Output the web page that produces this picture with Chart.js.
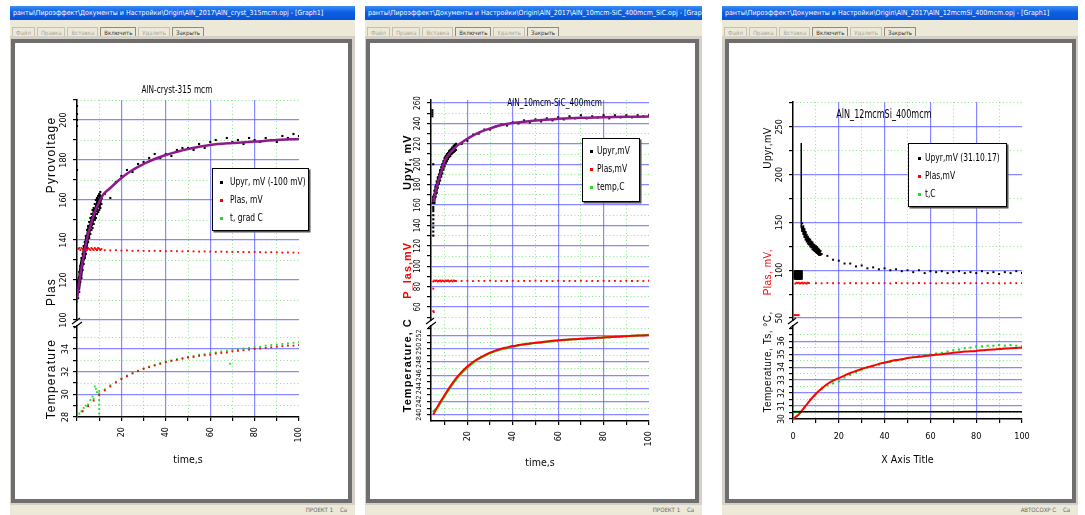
<!DOCTYPE html>
<html>
<head>
<meta charset="utf-8">
<title>Pyroelectric response</title>
<script src="https://cdn.jsdelivr.net/npm/chart.js@4.4.1/dist/chart.umd.min.js"></script>
<style>
  body { margin: 0; width: 1085px; height: 515px; background: #fff; position: relative; overflow: hidden;
         font-family: "Liberation Sans Narrow", "DejaVu Sans Condensed", "Liberation Sans", sans-serif; }
  .win { position: absolute; top: 6px; height: 509px; background: #d4d0c8; }
  .titlebar { position: absolute; left: 0; right: 0; top: 0; height: 14px; padding-left: 3px;
              background: linear-gradient(#3d8ef6, #0c5fe2 45%, #0654d8); color: #fff;
              font-size: 7px; line-height: 14px; white-space: nowrap; overflow: hidden; }
  .toolbar { position: absolute; left: 0; right: 0; top: 14px; height: 16px; background: #ece9d8;
             white-space: nowrap; overflow: hidden; }
  .toolbar span { display: inline-block; margin: 3px 0 0 2px; padding: 0 3px; height: 9px; line-height: 9px;
                  border: 1px solid #c4c1b2; font-size: 6px; color: #a8a69a; }
  .toolbar span.on { color: #333; border-color: #8d8b80; }
  .frame { position: absolute; top: 33px; border: 4px solid #6e6e6e; background: #fff; }
  .frame canvas { display: block; }
  .status { position: absolute; left: 0; right: 0; bottom: 0; height: 10px; background: #ece9d8;
            font-size: 6px; line-height: 10px; color: #666; text-align: right; padding-right: 8px; box-sizing: border-box; }
  .legend { position: absolute; background: #fff; border: 1px solid #000; box-shadow: 1.5px 1.5px 0 #555;
            font-size: 10px; color: #000; box-sizing: border-box; }
  .legend div { height: 18px; line-height: 18px; white-space: nowrap; position: relative; }
  .legend i { position: absolute; top: 8px; left: var(--mk); width: 3px; height: 3px; }
  .legend span { position: absolute; left: var(--tx); transform: scaleX(0.84); transform-origin: left center; }
</style>
</head>
<body>

<div class="win" style="left:10px;width:345px">
  <div class="titlebar">ранты\Пироэффект\Документы и Настройки\Origin\AlN_2017\AlN_cryst_315mcm.opj - [Graph1]</div>
  <div class="toolbar"><span>Файл</span><span>Правка</span><span>Вставка</span><span class="on">Включить</span><span>Удалить</span><span class="on">Закрыть</span></div>
  <div class="frame" style="left:1px"><canvas id="chart1" width="333" height="456"></canvas></div>
  <div class="status">ПРОЕКТ 1 &nbsp;&nbsp; Ca</div>
</div>

<div class="win" style="left:365px;width:337px">
  <div class="titlebar">ранты\Пироэффект\Документы и Настройки\Origin\AlN_2017\AlN_10mcm-SiC_400mcm_SiC.opj - [Graph1]</div>
  <div class="toolbar"><span>Файл</span><span>Правка</span><span>Вставка</span><span class="on">Включить</span><span>Удалить</span><span class="on">Закрыть</span></div>
  <div class="frame" style="left:1px"><canvas id="chart2" width="325" height="456"></canvas></div>
  <div class="status">ПРОЕКТ 1 &nbsp;&nbsp; Ca</div>
</div>

<div class="win" style="left:722px;width:356px">
  <div class="titlebar">ранты\Пироэффект\Документы и Настройки\Origin\AlN_2017\AlN_12mcmSi_400mcm.opj - [Graph1]</div>
  <div class="toolbar"><span>Файл</span><span>Правка</span><span>Вставка</span><span class="on">Включить</span><span>Удалить</span><span class="on">Закрыть</span></div>
  <div class="frame" style="left:3px"><canvas id="chart3" width="343" height="456"></canvas></div>
  <div class="status">АВТОСОХР C &nbsp;&nbsp; Ca</div>
</div>

<div class="legend" id="legend1" style="left:212px;top:168px;width:97px;height:63px;padding-top:4px;--mk:7px;--tx:17px"></div>
<div class="legend" id="legend2" style="left:582px;top:138px;width:58px;height:64px;padding-top:3px;--mk:7px;--tx:14px"></div>
<div class="legend" id="legend3" style="left:908px;top:143px;width:99px;height:64px;padding-top:5px;--mk:9px;--tx:16px"></div>

<script>
// ---- panel 1: AlN-cryst-315 mcm ----
const p1DenseTime = [0.5, 1, 1.5, 2, 2.5, 3, 3.5, 4, 4.5, 5, 5.5, 6, 6.5, 7, 7.5, 8, 8.5, 9, 9.5, 10, 10.5, 11];
const p1PyroDenseMid = [115, 120, 122, 127, 130, 131, 136, 137, 141, 142, 146, 147, 148, 151, 151, 155, 155, 157, 159, 158, 161, 160];
const p1PyroDenseHigh = [119, 124, 127, 131, 133, 137, 139, 142, 145, 147, 149, 151, 153, 155, 156, 158, 160, 161, 162, 163, 164, 162];
const p1PyroDenseLow = [111, 114, 119, 121, 125, 128, 131, 133, 136, 139, 141, 143, 145, 146, 148, 150, 151, 153, 154, 155, 156, 158];
const p1SparseTime = [12.5, 15, 17.5, 20, 22.5, 25, 27.5, 30, 32.5, 35, 37.5, 40, 42.5, 45, 47.5, 50, 52.5, 55,
  57.5, 60, 62.5, 65, 67.5, 70, 72.5, 75, 77.5, 80, 82.5, 85, 87.5, 90, 92.5, 95, 97.5, 100];
const p1PyroSparse = [163, 161, 169, 172, 175, 174, 178, 179, 181, 183, 181, 183, 182, 185, 186, 186, 185, 188,
  186, 189, 190, 188, 191, 189, 190, 188, 191, 190, 189, 191, 190, 189, 192, 191, 193, 192];
const p1PyroEdgeTime = [0, 0, 0, 0, 0];
const p1PyroEdge = [207, 203, 200, 197, 175];
const p1FitTime = [0, 1, 2, 3, 4, 5, 6, 8, 10, 12, 15, 20, 25, 30, 35, 40, 50, 60, 70, 80, 90, 100];
const p1FitValues = [110, 119, 126, 132, 138, 143, 147, 154, 159, 163, 166, 171, 175, 178, 180.5, 182.5, 185.5, 187.5, 188.5, 189.2, 190, 190.5];
const p1LaserDense = [135.5, 136, 135, 136, 135.5, 135, 136, 135.5, 135, 136, 135.5, 135, 136, 135.5, 135, 136, 135.5, 135, 136, 135.5, 135, 135.5];
const p1LaserSparse = [134.9, 134.8, 134.9, 134.7, 134.8, 134.6, 134.7, 134.6, 134.5, 134.6, 134.5, 134.4, 134.5, 134.4, 134.3, 134.4, 134.3, 134.2,
  134.3, 134.2, 134.1, 134.2, 134.1, 134.0, 134.1, 134.0, 133.9, 134.0, 133.9, 133.8, 133.9, 133.8, 133.7, 133.8, 133.7, 133.6];
const p1LaserEdgeTime = [0];
const p1LaserEdge = [109];
const p1TempTime = [0, 2.5, 5, 7.5, 10, 12.5, 15, 17.5, 20, 22.5, 25, 27.5, 30, 32.5, 35, 37.5, 40, 42.5, 45, 47.5, 50,
  52.5, 55, 57.5, 60, 62.5, 65, 67.5, 70, 72.5, 75, 77.5, 80, 82.5, 85, 87.5, 90, 92.5, 95, 97.5, 100];
const p1TempRed = [28.0, 28.5, 28.95, 29.45, 29.95, 30.35, 30.7, 31.05, 31.35, 31.6, 31.85, 32.05, 32.25, 32.4, 32.55, 32.7, 32.85, 32.95, 33.05, 33.15, 33.25,
  33.3, 33.4, 33.45, 33.5, 33.6, 33.65, 33.7, 33.8, 33.85, 33.9, 33.95, 34.0, 34.05, 34.1, 34.15, 34.2, 34.25, 34.3, 34.3, 34.35];
const p1TempGreen = [28.0, 28.55, 29.1, 29.6, 30.1, 30.45, 30.8, 31.1, 31.4, 31.65, 31.9, 32.1, 32.3, 32.45, 32.6, 32.75, 32.9, 33.0, 33.1, 33.2, 33.3,
  33.4, 33.5, 33.55, 33.65, 33.7, 33.8, 33.85, 33.95, 34.0, 34.05, 34.1, 34.15, 34.2, 34.3, 34.35, 34.4, 34.45, 34.5, 34.55, 34.6];
const p1TempExtraTime = [1, 2, 3, 4, 6, 7, 8, 8.5, 9, 10, 10, 10, 10, 10, 10, 69];
const p1TempExtra = [28.3, 28.5, 28.8, 29.0, 29.5, 29.8, 30.7, 30.5, 30.2, 30.3, 29.9, 29.5, 29.1, 28.7, 28.3, 32.7];

// ---- panel 2: AlN_10mcm-SiC_400mcm ----
const p2DenseTime = [5, 5.5, 6, 6.5, 7, 7.5, 8, 8.5, 9, 9.5, 10, 10.5, 11, 11.5, 12, 12.5, 13, 13.5, 14, 14.5, 15];
const p2PyroDenseMid = [161, 169, 172, 179, 181, 187, 188, 194, 195, 200, 202, 206, 206, 209, 209, 212, 212, 215, 214, 217, 216];
const p2PyroDenseHigh = [168, 174, 178, 183, 187, 190, 194, 197, 200, 203, 206, 208, 210, 211, 213, 214, 215, 216, 218, 219, 220];
const p2PyroDenseLow = [156, 162, 168, 172, 177, 181, 184, 188, 191, 195, 198, 201, 203, 205, 207, 208, 210, 211, 212, 213, 214];
const p2SparseTime = [17.5, 20, 22.5, 25, 27.5, 30, 32.5, 35, 37.5, 40, 42.5, 45, 47.5, 50, 52.5, 55, 57.5,
  60, 62.5, 65, 67.5, 70, 72.5, 75, 77.5, 80, 82.5, 85, 87.5, 90, 92.5, 95, 97.5, 100];
const p2PyroSparse = [220, 223, 229, 230, 234, 234, 237, 239, 238, 241, 240, 243, 241, 244, 242, 245, 243,
  246, 244, 247, 245, 248, 245, 247, 246, 248, 245, 248, 246, 248, 246, 248, 247, 248];
const p2PyroEdgeTime = [5, 5, 5, 5, 5, 5, 5, 5, 5, 4.6, 4.6, 4.6, 4.6];
const p2PyroEdge = [130, 134, 138, 142, 146, 150, 154, 158, 200, 247, 249, 251, 253];
const p2FitTime = [5, 6, 7, 8, 9, 10, 11, 12, 14, 16, 18, 20, 25, 30, 35, 40, 50, 60, 70, 80, 90, 100];
const p2FitValues = [163, 173, 182, 189, 196, 203, 207, 210, 215, 219, 222, 225, 231, 235, 238.5, 240.5, 243, 244.5, 245.5, 246, 246.5, 246.8];
const p2LaserDense = [85, 86, 85.5, 86, 85, 85.5, 86, 85, 86, 85.5, 85, 86, 85.5, 86, 85, 85.5, 86, 85, 86, 85.5, 85.5];
const p2LaserSparse = [85.5, 85.7, 85.4, 85.6, 85.5, 85.8, 85.4, 85.6, 85.5, 85.7, 85.4, 85.6, 85.5, 85.8, 85.5, 85.6, 85.4,
  85.7, 85.5, 85.6, 85.5, 85.8, 85.4, 85.6, 85.5, 85.7, 85.5, 85.6, 85.4, 85.7, 85.5, 85.6, 85.5, 85.7];
const p2LaserEdgeTime = [5, 5, 5.2];
const p2LaserEdge = [78, 56, 55];
const p2TempTime = [5, 7.5, 10, 12.5, 15, 17.5, 20, 22.5, 25, 27.5, 30, 32.5, 35, 37.5, 40, 42.5, 45, 47.5, 50, 52.5,
  55, 57.5, 60, 62.5, 65, 67.5, 70, 72.5, 75, 77.5, 80, 82.5, 85, 87.5, 90, 92.5, 95, 97.5, 100];
const p2TempRed = [240.0, 241.6, 243.0, 244.3, 245.5, 246.5, 247.3, 248.0, 248.55, 249.0, 249.4, 249.75, 250.0, 250.2, 250.4, 250.55, 250.7, 250.8, 250.9, 251.0,
  251.1, 251.2, 251.3, 251.35, 251.4, 251.45, 251.5, 251.55, 251.6, 251.65, 251.7, 251.75, 251.8, 251.85, 251.9, 251.95, 252.0, 252.0, 252.05];
const p2TempGreen = [240.5, 241.4, 242.8, 244.1, 245.3, 246.3, 247.1, 247.85, 248.45, 248.9, 249.3, 249.65, 249.9, 250.1, 250.3, 250.5, 250.6, 250.75, 250.85, 250.95,
  251.05, 251.15, 251.25, 251.3, 251.4, 251.45, 251.5, 251.55, 251.6, 251.65, 251.7, 251.75, 251.8, 251.85, 251.9, 251.95, 252.0, 252.05, 252.1];

// ---- panel 3: AlN_12mcmSi_400mcm ----
const p3BlockTime = [1, 1.5, 2, 2.5, 3, 3.5, 1, 1.5, 2, 2.5, 3, 3.5, 1, 1.5, 2, 2.5, 3, 3.5];
const p3Block = [92, 92, 92, 92, 92, 92, 95, 95, 95, 95, 95, 95, 98, 98, 98, 98, 98, 98];
const p3SpikeTime = [3.6, 3.6];
const p3Spike = [145, 233];
const p3DenseTime = [4, 4.5, 5, 5.5, 6, 6.5, 7, 7.5, 8, 8.5, 9, 9.5, 10, 10.5, 11, 11.5, 12];
const p3PyroDenseMid = [146, 141, 140, 135, 134, 131, 131, 128, 128, 125, 125, 122, 123, 120, 121, 118, 119];
const p3PyroDenseHigh = [149, 146, 143, 140, 137, 135, 133, 132, 130, 129, 127, 126, 125, 124, 122, 121, 120];
const p3PyroDenseLow = [141, 138, 135, 132, 130, 128, 127, 125, 124, 122, 121, 120, 119, 118, 117, 116, 116];
const p3SparseTime = [12.5, 15, 17.5, 20, 22.5, 25, 27.5, 30, 32.5, 35, 37.5, 40, 42.5, 45, 47.5, 50, 52.5, 55,
  57.5, 60, 62.5, 65, 67.5, 70, 72.5, 75, 77.5, 80, 82.5, 85, 87.5, 90, 92.5, 95, 97.5, 100];
const p3PyroSparse = [117, 115, 111, 110, 107, 107, 104, 105, 102, 103, 101, 102, 100, 101, 99, 100, 98, 100,
  97, 99, 98, 99, 97, 98, 99, 97, 98, 97, 99, 97, 98, 96, 98, 97, 99, 97];
const p3LaserDenseTime = [1, 1.5, 2, 2.5, 3, 3.5, 4, 4.5, 5, 5.5, 6, 6.5, 7];
const p3LaserDense = [86, 87, 86.5, 87, 86, 86.5, 87, 86, 87, 86.5, 86, 87, 86.5];
const p3LaserSparseTime = [10, 12.5, 15, 17.5, 20, 22.5, 25, 27.5, 30, 32.5, 35, 37.5, 40, 42.5, 45, 47.5, 50, 52.5, 55,
  57.5, 60, 62.5, 65, 67.5, 70, 72.5, 75, 77.5, 80, 82.5, 85, 87.5, 90, 92.5, 95, 97.5, 100];
const p3LaserSparse = [86.5, 86.3, 86.6, 86.4, 86.5, 86.2, 86.6, 86.4, 86.5, 86.3, 86.6, 86.4, 86.5, 86.2, 86.6, 86.4, 86.5, 86.3, 86.6,
  86.4, 86.5, 86.2, 86.6, 86.4, 86.5, 86.3, 86.6, 86.4, 86.5, 86.2, 86.6, 86.4, 86.5, 86.3, 86.6, 86.4, 86.5];
const p3LaserLowTime = [0.5, 1, 1.5, 2, 2.5];
const p3LaserLow = [53, 53, 53, 53, 53];
const p3TempTime = [0, 2.5, 5, 7.5, 10, 12.5, 15, 17.5, 20, 22.5, 25, 27.5, 30, 32.5, 35, 37.5, 40, 42.5, 45, 47.5, 50,
  52.5, 55, 57.5, 60, 62.5, 65, 67.5, 70, 72.5, 75, 77.5, 80, 82.5, 85, 87.5, 90, 92.5, 95, 97.5, 100];
const p3TempRed = [30.0, 30.35, 30.9, 31.45, 31.95, 32.35, 32.7, 32.95, 33.15, 33.35, 33.55, 33.7, 33.85, 34.0, 34.1, 34.25, 34.35, 34.45, 34.55, 34.6, 34.7,
  34.75, 34.8, 34.85, 34.9, 34.95, 35.0, 35.05, 35.1, 35.15, 35.2, 35.22, 35.25, 35.3, 35.33, 35.36, 35.4, 35.43, 35.46, 35.48, 35.5];
const p3TempGreen = [30.55, 30.55, 30.9, 31.5, 31.95, 32.3, 32.6, 32.75, 32.9, 33.2, 33.4, 33.6, 33.8, 33.95, 34.05, 34.2, 34.3, 34.4, 34.5, 34.6, 34.7,
  34.8, 34.85, 34.95, 35.0, 35.05, 35.1, 35.2, 35.3, 35.35, 35.45, 35.5, 35.6, 35.6, 35.65, 35.65, 35.7, 35.65, 35.7, 35.65, 35.6];
const p3TempExtraTime = [0.5, 1, 1.5, 2, 3, 3.5];
const p3TempExtra = [30.55, 30.55, 30.55, 30.55, 30.55, 30.55];
const p3BaseTime = [0, 100];
const p3Base = [30.55, 30.55];

// colours
const BLUE = 'rgba(85, 85, 255, 0.7)';
const GREEN_GRID = 'rgba(0, 200, 0, 0.45)';
const BLACK = '#000000';
const RED = '#ff0000';
const LIME = '#22dd22';
const PURPLE = '#8e1a8e';
const NARROW = '"Liberation Sans Narrow", "DejaVu Sans Condensed", "Liberation Sans", sans-serif';
const WIDE = '"Liberation Sans", Arial, sans-serif';

Chart.defaults.font.family = NARROW;
Chart.defaults.color = '#000';

function points(times, values) {
  return values.map((v, i) => ({ x: times[i], y: v }));
}

function isStep(value, step) {
  const r = value / step;
  return Math.abs(r - Math.round(r)) < 1e-6;
}

function pointSet(label, color, data, yAxisID, extra) {
  return Object.assign({
    label: label,
    data: data,
    yAxisID: yAxisID,
    backgroundColor: color,
    borderColor: color,
    pointStyle: 'rect',
    pointRadius: 1.3,
    pointBorderWidth: 0,
    showLine: false
  }, extra);
}

function lineSet(label, color, data, yAxisID, width, tension) {
  return {
    label: label,
    data: data,
    yAxisID: yAxisID,
    borderColor: color,
    backgroundColor: color,
    borderWidth: width,
    pointRadius: 0,
    showLine: true,
    tension: tension
  };
}

function xScale(p, height) {
  return {
    type: 'linear',
    min: p.min,
    max: p.max,
    border: { color: BLACK, width: 1.5 },
    grid: {
      color: (c) => c.tick && isStep(c.tick.value, p.major) && c.tick.value > p.min && c.tick.value < p.max ? BLUE : 'transparent',
      lineWidth: 1.2,
      tickColor: BLACK,
      tickLength: 4
    },
    ticks: {
      stepSize: p.minor,
      includeBounds: false,
      autoSkip: false,
      minRotation: p.rotation,
      maxRotation: p.rotation,
      padding: p.labelPad,
      font: { size: 9 },
      callback: (v) => isStep(v, p.major) && (v > 0 || p.showZero) ? v : ''
    },
    title: { display: true, text: p.title, font: { size: p.titleSize }, padding: { top: 0, bottom: p.titlePad } },
    afterFit: (s) => { s.height = height; }
  };
}

function yScale(p, width) {
  return {
    type: 'linear',
    position: 'left',
    stack: 'left',
    stackWeight: p.size,
    weight: p.order,
    min: p.min,
    max: p.max,
    border: { color: BLACK, width: 1.5 },
    grid: {
      color: (c) => c.tick && isStep(c.tick.value, p.major) && c.tick.value > p.min && c.tick.value <= p.labelMax ? BLUE : 'transparent',
      lineWidth: 1.2,
      tickColor: BLACK,
      tickLength: 4
    },
    ticks: {
      stepSize: p.minor,
      includeBounds: false,
      autoSkip: false,
      minRotation: 90,
      maxRotation: 90,
      crossAlign: 'center',
      padding: 2,
      font: { size: p.labelSize || 9 },
      callback: (v) => isStep(v, p.major) && v >= p.labelMin && v <= p.labelMax ? v : ''
    },
    afterFit: (s) => { s.width = width; }
  };
}

// dotted minor grid, drawn by a scale without labels
function minorScale(p, extra) {
  return Object.assign({
    type: 'linear',
    min: p.min,
    max: p.max,
    border: { display: false, dash: [1, 2.5] },
    grid: {
      color: (c) => c.tick && !isStep(c.tick.value, p.major) ? GREEN_GRID : 'transparent',
      lineWidth: 1,
      drawTicks: false
    },
    ticks: { display: false, stepSize: p.minor, includeBounds: false, autoSkip: false }
  }, extra);
}

// title, rotated axis captions and the "//" break between the stacked y scales
const decorPlugin = {
  id: 'decor',
  afterDraw(chart, args, opts) {
    const { ctx, chartArea, scales } = chart;
    ctx.save();
    ctx.textAlign = 'center';
    ctx.textBaseline = 'middle';
    ctx.fillStyle = BLACK;
    ctx.font = opts.titleSize + 'px ' + NARROW;
    ctx.translate(scales.x.getPixelForValue(opts.titleAt[0]), scales.y.getPixelForValue(opts.titleAt[1]));
    ctx.scale(opts.titleSqueeze, 1);
    ctx.fillText(opts.title, 0, 0);
    ctx.restore();

    opts.captions.forEach((c) => {
      ctx.save();
      ctx.textAlign = 'center';
      ctx.textBaseline = 'middle';
      ctx.translate(chartArea.left - opts.captionOffset, scales[c.scale].getPixelForValue(c.value));
      ctx.rotate(-Math.PI / 2);
      ctx.font = opts.captionFont;
      ctx.letterSpacing = opts.captionSpacing;
      ctx.fillStyle = c.color || BLACK;
      ctx.fillText(c.text, 0, 0);
      ctx.restore();
    });

    const bx = chartArea.left;
    const by = scales.y.bottom;
    ctx.save();
    ctx.fillStyle = '#fff';
    ctx.fillRect(bx - 3, by - 2, 6, 4);
    ctx.strokeStyle = BLACK;
    ctx.lineWidth = 1.2;
    ctx.beginPath();
    ctx.moveTo(bx - 5, by + 1);
    ctx.lineTo(bx + 3, by - 5);
    ctx.moveTo(bx - 3, by + 5);
    ctx.lineTo(bx + 5, by - 1);
    ctx.stroke();
    ctx.restore();
  }
};

function buildLegend(chart, legendId) {
  const box = document.getElementById(legendId);
  const items = chart.data.datasets.filter(d => d.legendRank).sort((a, b) => a.legendRank - b.legendRank);
  box.innerHTML = items.map(d => `<div><i style="background:${d.backgroundColor}"></i><span>${d.label}</span></div>`).join('');
}

function buildChart(canvasId, legendId, cfg) {
  const chart = new Chart(document.getElementById(canvasId), {
    type: 'scatter',
    data: { datasets: cfg.datasets },
    options: {
      responsive: false,
      animation: false,
      devicePixelRatio: 1,
      layout: { padding: { left: 0, top: cfg.box.top, right: cfg.box.right, bottom: 0 } },
      plugins: {
        legend: { display: false },
        tooltip: { enabled: false },
        decor: cfg.decor
      },
      scales: {
        x: xScale(cfg.x, cfg.box.bottom),
        xMinor: minorScale(cfg.x, { position: 'bottom', afterFit: (s) => { s.height = 0; } }),
        y: yScale(cfg.top, cfg.box.left),
        yT: yScale(cfg.bottom, cfg.box.left),
        yMinor: minorScale(cfg.top, { position: 'right', stack: 'right', stackWeight: cfg.top.size, weight: 0, afterFit: (s) => { s.width = 0; } }),
        yTMinor: minorScale(cfg.bottom, { position: 'right', stack: 'right', stackWeight: cfg.bottom.size, weight: 1, afterFit: (s) => { s.width = 0; } })
      }
    },
    plugins: [decorPlugin]
  });
  buildLegend(chart, legendId);
  return chart;
}

buildChart('chart1', 'legend1', {
  box: { left: 62, right: 49, top: 57, bottom: 82 },
  x: { min: 0, max: 100, major: 20, minor: 10, rotation: 90, labelPad: 6, showZero: false, title: 'time,s', titleSize: 10.5, titlePad: 32 },
  top: { min: 98.5, max: 210, major: 20, minor: 10, labelMin: 100, labelMax: 200, size: 223, order: 1 },
  bottom: { min: 28, max: 36.3, major: 2, minor: 1, labelMin: 28, labelMax: 34, size: 94, order: 0 },
  datasets: [
    lineSet('fit', PURPLE, points(p1FitTime, p1FitValues), 'y', 2.5, 0.35),
    pointSet('Plas, mV', RED, [...points(p1LaserEdgeTime, p1LaserEdge), ...points(p1DenseTime, p1LaserDense),
      ...points(p1SparseTime, p1LaserSparse)], 'y', { legendRank: 2 }),
    lineSet('Upyr dense', BLACK, points(p1DenseTime, p1PyroDenseMid), 'y', 4, 0),
    pointSet('Upyr, mV (-100 mV)', BLACK, [...points(p1PyroEdgeTime, p1PyroEdge), ...points(p1DenseTime, p1PyroDenseHigh),
      ...points(p1DenseTime, p1PyroDenseLow), ...points(p1SparseTime, p1PyroSparse)], 'y', { legendRank: 1, pointRadius: 1.5 }),
    pointSet('temperature fit', RED, points(p1TempTime, p1TempRed), 'yT'),
    pointSet('t, grad C', LIME, [...points(p1TempTime, p1TempGreen), ...points(p1TempExtraTime, p1TempExtra)], 'yT', { legendRank: 3 })
  ],
  decor: {
    title: 'AlN-cryst-315 mcm', titleAt: [45, 215], titleSize: 10.5, titleSqueeze: 0.78,
    captionOffset: 25, captionFont: '12px ' + WIDE, captionSpacing: '1.2px',
    captions: [
      { text: 'Pyrovoltage', scale: 'y', value: 182.5 },
      { text: 'Plas', scale: 'y', value: 114 },
      { text: 'Temperature', scale: 'yT', value: 31.35 }
    ]
  }
});

buildChart('chart2', 'legend2', {
  box: { left: 61, right: 46, top: 57, bottom: 78 },
  x: { min: 4, max: 100, major: 20, minor: 10, rotation: 90, labelPad: 6, showZero: false, title: 'time,s', titleSize: 10.5, titlePad: 29 },
  top: { min: 44.3, max: 263, major: 20, minor: 10, labelMin: 60, labelMax: 260, size: 223, order: 1, labelSize: 8 },
  bottom: { min: 239.05, max: 253.9, major: 2, minor: 1, labelMin: 240, labelMax: 252, size: 98, order: 0, labelSize: 7 },
  datasets: [
    lineSet('fit', PURPLE, points(p2FitTime, p2FitValues), 'y', 2.5, 0.35),
    lineSet('Upyr dense', BLACK, points(p2DenseTime, p2PyroDenseMid), 'y', 3.5, 0),
    pointSet('Upyr,mV', BLACK, [...points(p2PyroEdgeTime, p2PyroEdge), ...points(p2DenseTime, p2PyroDenseHigh),
      ...points(p2DenseTime, p2PyroDenseLow), ...points(p2SparseTime, p2PyroSparse)], 'y', { legendRank: 1, pointRadius: 1.5 }),
    pointSet('Plas,mV', RED, [...points(p2LaserEdgeTime, p2LaserEdge), ...points(p2DenseTime, p2LaserDense),
      ...points(p2SparseTime, p2LaserSparse)], 'y', { legendRank: 2 }),
    lineSet('temperature fit', RED, points(p2TempTime, p2TempRed), 'yT', 2, 0.3),
    pointSet('temp,C', LIME, points(p2TempTime, p2TempGreen), 'yT', { legendRank: 3, showLine: true, borderWidth: 2, tension: 0.3 })
  ],
  decor: {
    title: 'AlN_10mcm-SiC_400mcm', titleAt: [58.4, 260], titleSize: 10.5, titleSqueeze: 0.78,
    captionOffset: 23, captionFont: 'bold 11px ' + WIDE, captionSpacing: '1px',
    captions: [
      { text: 'Upyr, mV', scale: 'y', value: 202 },
      { text: 'P_las,mV', scale: 'y', value: 96, color: RED },
      { text: 'Temperature, C', scale: 'yT', value: 247.5 }
    ]
  }
});

buildChart('chart3', 'legend3', {
  box: { left: 64, right: 50, top: 59, bottom: 80 },
  x: { min: 0, max: 100, major: 20, minor: 10, rotation: 0, labelPad: 8, showZero: true, title: 'X Axis Title', titleSize: 10.5, titlePad: 32 },
  top: { min: 44.8, max: 276, major: 50, minor: 25, labelMin: 50, labelMax: 250, size: 221, order: 1 },
  bottom: { min: 30, max: 37.4, major: 1, minor: 0.5, labelMin: 30, labelMax: 36, size: 96, order: 0, labelSize: 8.5 },
  datasets: [
    lineSet('Upyr spike', BLACK, points(p3SpikeTime, p3Spike), 'y', 1.5, 0),
    lineSet('Upyr dense', BLACK, points(p3DenseTime, p3PyroDenseMid), 'y', 3.5, 0),
    pointSet('Upyr block', BLACK, points(p3BlockTime, p3Block), 'y', { pointRadius: 2.6 }),
    pointSet('Upyr,mV (31.10.17)', BLACK, [...points(p3DenseTime, p3PyroDenseHigh), ...points(p3DenseTime, p3PyroDenseLow),
      ...points(p3SparseTime, p3PyroSparse)], 'y', { legendRank: 1, pointRadius: 1.4 }),
    pointSet('Plas,mV', RED, [...points(p3LaserLowTime, p3LaserLow), ...points(p3LaserDenseTime, p3LaserDense),
      ...points(p3LaserSparseTime, p3LaserSparse)], 'y', { legendRank: 2 }),
    lineSet('baseline', BLACK, points(p3BaseTime, p3Base), 'yT', 1.5, 0),
    lineSet('temperature fit', RED, points(p3TempTime, p3TempRed), 'yT', 2, 0.3),
    pointSet('t,C', LIME, [...points(p3TempTime, p3TempGreen), ...points(p3TempExtraTime, p3TempExtra)], 'yT', { legendRank: 3, pointRadius: 1.5 })
  ],
  decor: {
    title: 'AlN_12mcmSi_400mcm', titleAt: [39.7, 262.5], titleSize: 11.5, titleSqueeze: 0.78,
    captionOffset: 25, captionFont: '10px ' + WIDE, captionSpacing: '0.5px',
    captions: [
      { text: 'Upyr,mV', scale: 'y', value: 228 },
      { text: 'Plas, mV,', scale: 'y', value: 98, color: RED },
      { text: 'Temperature, Ts, °C,', scale: 'yT', value: 34.4 }
    ]
  }
});
</script>
</body>
</html>
